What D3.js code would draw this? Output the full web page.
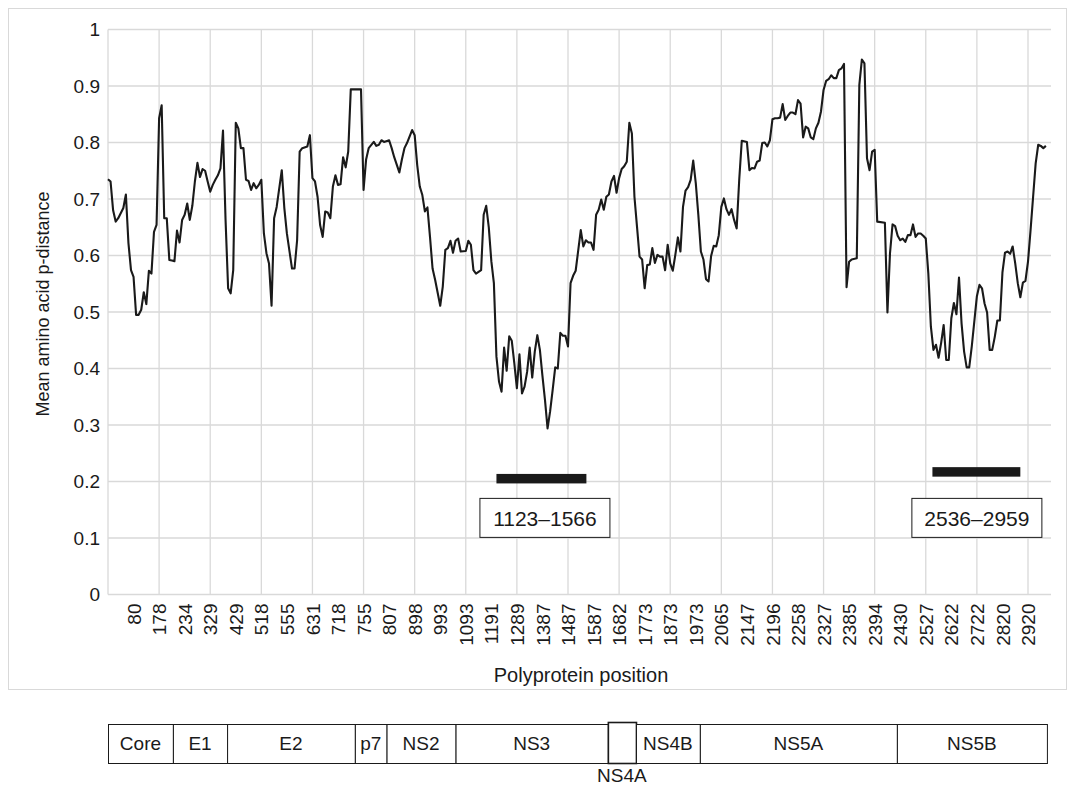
<!DOCTYPE html>
<html><head><meta charset="utf-8">
<script src="https://cdn.jsdelivr.net/npm/d3@7"></script>
<style>
body{margin:0;background:#fff}
text{font-family:"Liberation Sans",Arial,Helvetica,sans-serif;fill:#1a1a1a}
</style>
</head><body>
<svg id="chart" width="1075" height="787"></svg>
<script>
// ---------------- DATA ----------------
const tickLabels = ["80","178","234","329","429","518","555","631","718","755","807","898","993","1093","1191","1289","1387","1487","1587",
  "1682","1773","1873","1973","2065","2147","2196","2258","2327","2385","2394","2430","2527","2622","2722","2820","2920"];
const yTicks = [0,0.1,0.2,0.3,0.4,0.5,0.6,0.7,0.8,0.9,1];

// window number (category index along the polyprotein) and mean p-distance
const windowIndex = [
  0,1,2,3,4,6,7,8,9,10,11,12,13,14,15,16,17,18,19,20,21,22,23,24,25,26,27,28,29,30,31,32,33,34,35,36,37,38,39,40,
  41,42,43,44,45,46,47,48,49,50,51,52,53,54,55,56,57,58,59,60,61,62,63,64,65,66,68,69,70,72,73,74,75,76,78,79,80,
  81,82,83,84,85,86,87,88,89,90,91,92,93,94,95,99,100,101,102,104,105,106,107,108,110,111,112,114,115,116,117,119,120,
  121,122,123,124,125,126,127,128,130,131,132,133,134,135,136,137,138,140,141,142,143,144,145,146,147,148,149,150,
  151,152,153,154,155,156,157,158,159,160,161,162,163,164,165,166,167,168,169,170,171,172,173,174,175,176,177,178,179,180,
  181,182,183,185,186,187,188,189,190,191,192,193,194,195,196,197,198,199,200,201,202,203,204,205,206,207,208,209,210,
  211,212,213,214,215,216,217,218,219,220,221,222,223,224,225,226,227,228,229,230,231,232,233,234,235,236,237,238,239,240,
  241,242,243,244,245,246,247,248,250,251,252,253,254,255,256,257,258,259,260,261,262,263,264,265,266,267,268,269,270,
  271,272,273,274,275,276,277,278,279,280,281,282,283,284,285,286,287,288,289,290,291,293,294,295,296,297,298,299,300,
  301,304,305,306,307,308,309,310,311,312,313,314,315,316,317,318,319,320,321,322,323,324,325,326,327,328,329,330,
  331,332,333,334,335,336,337,338,340,341,342,343,344,345,346,347,348,349,350,351,352,353,354,355,356,357,358,359,360,
  361,362,363,364,365,366,367];
const pDistance = [
  0.735,0.731,0.680,0.660,0.666,0.684,0.708,0.622,0.574,0.562,0.495,0.495,0.504,0.535,0.514,0.573,0.568,0.642,0.654,0.843,0.866,0.666,0.666,0.592,0.591,0.590,0.644,0.623,0.663,0.672,0.692,0.663,0.688,0.731,0.764,0.739,0.753,0.750,0.731,0.713,
  0.725,0.734,0.742,0.754,0.821,0.663,0.542,0.533,0.574,0.835,0.825,0.790,0.790,0.734,0.732,0.716,0.728,0.719,0.725,0.734,0.639,0.604,0.586,0.511,0.666,0.686,0.751,0.684,0.639,0.577,0.577,0.627,0.784,0.790,0.793,0.813,0.737,
  0.731,0.704,0.654,0.633,0.678,0.676,0.666,0.722,0.742,0.725,0.726,0.774,0.756,0.784,0.894,0.894,0.716,0.770,0.790,0.801,0.794,0.796,0.804,0.801,0.804,0.790,0.774,0.747,0.770,0.790,0.799,0.822,0.813,
  0.760,0.722,0.707,0.678,0.685,0.633,0.577,0.557,0.511,0.545,0.610,0.613,0.626,0.605,0.626,0.630,0.607,0.608,0.626,0.619,0.574,0.568,0.571,0.574,0.672,0.688,0.650,0.590,
  0.551,0.421,0.377,0.359,0.437,0.396,0.457,0.449,0.409,0.365,0.425,0.356,0.368,0.394,0.437,0.384,0.430,0.459,0.433,0.387,0.344,0.294,0.324,0.362,0.402,0.400,0.463,0.458,0.458,0.439,
  0.551,0.564,0.573,0.645,0.616,0.627,0.623,0.623,0.610,0.672,0.681,0.699,0.681,0.704,0.708,0.731,0.741,0.711,0.737,0.753,0.758,0.766,0.835,0.816,0.704,0.651,0.598,0.593,0.542,
  0.583,0.584,0.613,0.587,0.601,0.598,0.598,0.574,0.619,0.586,0.573,0.601,0.632,0.607,0.686,0.715,0.721,0.734,0.768,0.728,0.672,0.607,0.593,0.558,0.554,0.599,0.617,0.616,0.636,0.686,
  0.701,0.682,0.672,0.682,0.663,0.648,0.734,0.803,0.801,0.751,0.755,0.754,0.766,0.768,0.799,0.800,0.793,0.804,0.841,0.843,0.843,0.844,0.868,0.840,0.847,0.853,0.853,0.850,0.875,
  0.869,0.809,0.828,0.825,0.809,0.806,0.825,0.835,0.855,0.893,0.909,0.912,0.919,0.914,0.914,0.928,0.931,0.939,0.544,0.589,0.593,0.595,0.902,0.947,0.940,0.772,0.751,0.784,0.787,
  0.660,0.658,0.499,0.604,0.655,0.652,0.635,0.627,0.630,0.624,0.636,0.636,0.655,0.633,0.639,0.639,0.635,0.630,0.568,0.474,0.433,0.442,0.419,0.445,0.477,0.415,0.415,0.489,
  0.516,0.496,0.561,0.480,0.430,0.402,0.402,0.439,0.528,0.548,0.542,0.515,0.499,0.433,0.433,0.456,0.485,0.485,0.570,0.605,0.607,0.603,0.616,0.586,0.551,0.526,0.552,0.555,0.589,
  0.645,0.704,0.763,0.796,0.794,0.790,0.794];

// highlighted low-divergence regions (window ranges) and their labels
const regionLabels = ["1123\u20131566","2536\u20132959"];
const regionStart = [152, 322.6];
const regionEnd = [187.2, 357];
const regionLevel = [0.205, 0.217];

// genome map: gene names and boundaries in window units
const geneNames = ["Core","E1","E2","p7","NS2","NS3","NS4A","NS4B","NS5A","NS5B"];
const geneBounds = [0,25.4,46.6,96.6,109,136,195.6,206.6,231.6,308.7,367.4];

// ---------------- CHART ----------------
const FONT = "Liberation Sans, Arial, sans-serif";
const svg = d3.select("#chart");
svg.append("rect").attr("width",1075).attr("height",787).attr("fill","#fff");
svg.append("rect").attr("x",8.5).attr("y",8.5).attr("width",1058).attr("height",681)
  .attr("fill","none").attr("stroke","#d9d9d9").attr("stroke-width",1);

const x = d3.scaleLinear().domain([0,369]).range([108,1051]);
const y = d3.scaleLinear().domain([0,1]).range([594.5,29.5]);

const grid = svg.append("g").attr("stroke","#d9d9d9").attr("stroke-width",1.3);
grid.selectAll("line.h").data(yTicks).join("line")
  .attr("x1",x(0)).attr("x2",x(369)).attr("y1",d=>y(d)).attr("y2",d=>y(d));
const vGrid = d3.range(0,361,20);
grid.selectAll("line.v").data(vGrid).join("line")
  .attr("x1",d=>x(d)).attr("x2",d=>x(d)).attr("y1",y(1)).attr("y2",y(0));

// y axis
const yAxis = d3.axisLeft(y).tickValues(yTicks).tickSize(0).tickPadding(8).tickFormat(d3.format(""));
const ya = svg.append("g").attr("transform",`translate(${x(0)},0)`).call(yAxis);
ya.select(".domain").remove();
ya.selectAll("text").style("font-size","19px").attr("fill","#1a1a1a").style("font-family",FONT);

// x axis labels (rotated)
const tickIdx = tickLabels.map((_,i)=>10*(i+1));
const xAxis = d3.axisBottom(x).tickValues(tickIdx).tickSize(0).tickFormat((d,i)=>tickLabels[i]);
const xa = svg.append("g").attr("transform",`translate(0,${y(0)})`).call(xAxis);
xa.select(".domain").remove();
xa.selectAll("text").style("font-size","19px").attr("fill","#1a1a1a").style("font-family",FONT)
  .attr("transform","rotate(-90)").attr("text-anchor","end").attr("x",-9).attr("y",0).attr("dy","0.35em");

// titles
svg.append("text").attr("x",581).attr("y",682).attr("text-anchor","middle").style("font-size","20px").text("Polyprotein position");
svg.append("text").attr("transform","translate(49,304) rotate(-90)").attr("text-anchor","middle").style("font-size","18px").text("Mean amino acid p-distance");

// line
const pts = windowIndex.map((w,i)=>[w,pDistance[i]]);
svg.append("path").datum(pts).attr("fill","none").attr("stroke","#1a1a1a").attr("stroke-width",2.1)
  .attr("stroke-linejoin","round")
  .attr("d",d3.line().x(d=>x(d[0])).y(d=>y(d[1])));

// region bars and label boxes
const regions = regionLabels.map((l,i)=>({label:l,s:regionStart[i],e:regionEnd[i],lv:regionLevel[i]}));
const rg = svg.append("g");
rg.selectAll("rect.bar").data(regions).join("rect")
  .attr("x",d=>x(d.s)).attr("width",d=>x(d.e)-x(d.s)).attr("y",d=>y(d.lv)-4.75).attr("height",9.5).attr("fill","#1a1a1a");
const boxW = 130, boxH = 39;
rg.selectAll("rect.box").data(regions).join("rect")
  .attr("x",(d,i)=>x((d.s+d.e)/2)-boxW/2+(i===0?3:0)+0.5).attr("y",y(0.171)+0.5).attr("width",boxW).attr("height",boxH)
  .attr("fill","#fff").attr("stroke","#1a1a1a").attr("stroke-width",1);
rg.selectAll("text.lab").data(regions).join("text")
  .attr("x",(d,i)=>x((d.s+d.e)/2)+(i===0?3:0)+0.5).attr("y",y(0.171)+boxH/2+1).attr("dy","0.35em")
  .attr("text-anchor","middle").style("font-size","21px").text(d=>d.label);

// genome map
const mapTop = 724, mapH = 39;
const genes = geneNames.map((n,i)=>({name:n,s:geneBounds[i],e:geneBounds[i+1]}));
const gm = svg.append("g");
gm.selectAll("rect").data(genes).join("rect")
  .attr("x",d=>x(d.s)+0.5).attr("y",d=>d.name==="NS4A"?mapTop-2+0.5:mapTop+0.5)
  .attr("width",d=>x(d.e)-x(d.s)).attr("height",d=>d.name==="NS4A"?mapH+2:mapH)
  .attr("fill","#fff").attr("stroke","#1a1a1a").attr("stroke-width",d=>d.name==="NS4A"?1.6:1);
gm.selectAll("text").data(genes).join("text")
  .attr("x",d=>(x(d.s)+x(d.e))/2)
  .attr("y",d=>d.name==="NS4A"?775:mapTop+mapH/2)
  .attr("dy","0.35em").attr("text-anchor","middle").style("font-size","19px")
  .text(d=>d.name);
</script>
</body></html>
